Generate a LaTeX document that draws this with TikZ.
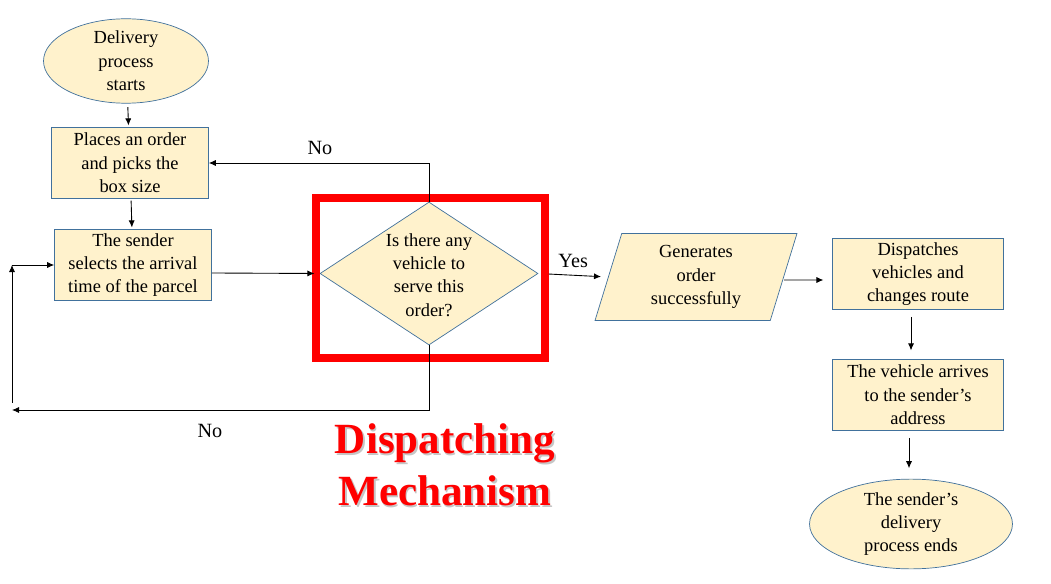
\documentclass[tikz,border=0pt]{standalone}
\usepackage{fontspec}
\setmainfont{Liberation Serif}[BoldFont={Liberation Serif Bold}]
\usetikzlibrary{shapes.geometric,arrows.meta}
\definecolor{boxfill}{RGB}{255,242,204}
\definecolor{boxline}{RGB}{65,113,156}
\begin{document}
\begin{tikzpicture}[x=0.02cm, y=-0.02cm,
    txt/.style={font=\fontsize{10.5}{13.3}\selectfont, align=center},
    procbox/.style={txt, draw=boxline, fill=boxfill, minimum width=3.14cm, minimum height=1.42cm, inner sep=1pt},
    termin/.style={txt, ellipse, draw=boxline, fill=boxfill, inner sep=0pt},
    arr/.style={-{Latex[length=4pt,width=3.5pt]}, black, line width=0.5pt},
    lbl/.style={font=\fontsize{11.5}{13}\selectfont}]
    \useasboundingbox (0,0) rectangle (1051,584);

    \node[termin, minimum width=3.3cm, minimum height=1.56cm] (start) at (126,61) {Delivery\\process\\starts}; %start
    \node[procbox] (order) at (130,163) {Places an order\\and picks the\\box size};
    \node[procbox] (sender) at (133,265) {The sender\\selects the arrival\\time of the parcel};

    \node[diamond, draw=boxline, fill=boxfill, minimum width=4.36cm, minimum height=2.86cm, inner sep=0pt] (check) at (429,273.5) {};
    \node[txt] (checktxt) at (429,275) {Is there any\\vehicle to\\serve this\\order?};
    \draw[red, line width=0.15cm] (316,198) rectangle (545,358); %red frame

    \node[txt, trapezium, trapezium left angle=67, trapezium right angle=113, trapezium stretches body,
        draw=boxline, fill=boxfill, minimum width=4.04cm, minimum height=1.74cm, inner sep=0pt] (gen) at (696,277) {Generates\\order\\successfully};
    \node[procbox, minimum width=3.42cm] (disp) at (918,274) {Dispatches\\vehicles and\\changes route};
    \node[procbox, minimum width=3.42cm] (arrive) at (918,395) {The vehicle arrives\\to the sender's\\address};
    \node[termin, minimum width=4.06cm, minimum height=1.76cm] (finish) at (911,524) {The sender's\\delivery\\process ends}; %end

    \draw[arr, shorten <=2pt, shorten >=1pt] (start) -- (order);
    \draw[arr, shorten <=1pt, shorten >=1pt] (order) -- (sender);
    \draw[arr, shorten >=3pt] (sender.east |- 0,273) -- (check.west);
    \draw[arr] (check.north) |- (order.east);
    \node[lbl] (notop) at (320,148) {No};

    \coordinate (backbot) at (12,410);
    \coordinate (backtop) at (12,265);
    \draw[arr] (check.south) |- (backbot);
    \node[lbl] (nobot) at (210,431) {No};
    \draw[arr] ([yshift=4pt]backbot) -- (backtop);
    \draw[arr] (backtop) -- (sender.west);

    \draw[arr, shorten <=6pt, shorten >=4pt] (check.east) -- (gen.west) node[midway, above=1pt, lbl] {Yes};
    \draw[arr, shorten >=5pt] (gen.east) ++(0,3) -- (disp.west |- 0,280);
    \draw[arr, shorten <=4pt, shorten >=5pt] (disp.south) ++(-7,0) -- (arrive.north -| 911,0);
    \draw[arr, shorten <=4pt, shorten >=6pt] (arrive.south) ++(-9,0) -- (finish.north -| 909,0);

    \node[gray!45, align=center, font=\fontsize{24.5}{29.5}\selectfont\bfseries] at (446.5,466.5) {Dispatching\\Mechanism}; %shadow
    \node[red, align=center, font=\fontsize{24.5}{29.5}\selectfont\bfseries] (mech) at (445,465) {Dispatching\\Mechanism};
\end{tikzpicture}
\end{document}
